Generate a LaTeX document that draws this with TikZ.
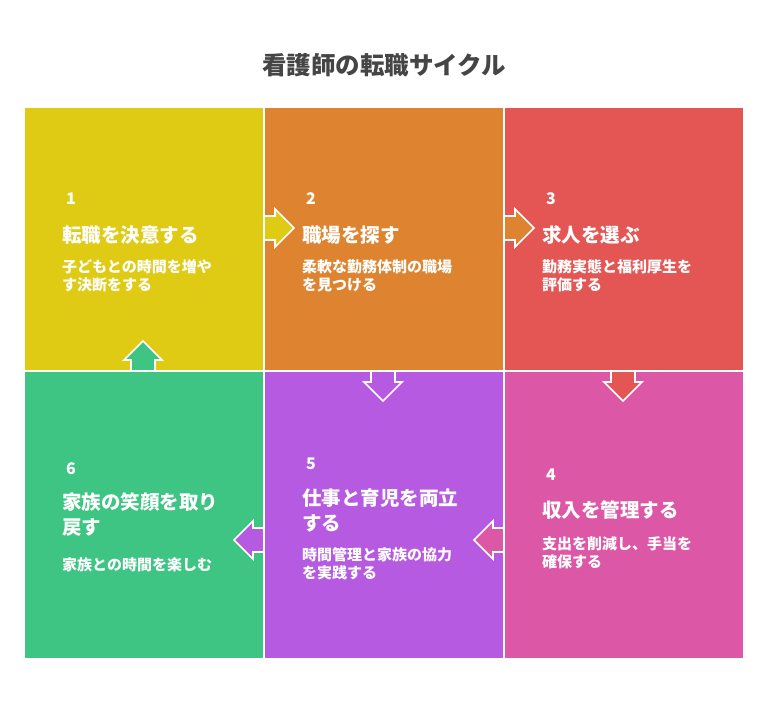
\documentclass[tikz,border=0pt]{standalone}
\usepackage{fontspec}
\setmainfont{Noto Sans CJK JP}
\definecolor{stepYellow}{HTML}{DFCA14}
\definecolor{stepOrange}{HTML}{DE8430}
\definecolor{stepRed}{HTML}{E35654}
\definecolor{stepPink}{HTML}{DC57A5}
\definecolor{stepPurple}{HTML}{B65BE1}
\definecolor{stepGreen}{HTML}{3EC583}
\definecolor{titleGray}{HTML}{454545}

\tikzset{
    stepnum/.style={anchor=west, inner sep=0pt, text=white,
        font=\bfseries\fontsize{16}{18}\selectfont},
    steptitle/.style={anchor=west, inner sep=0pt, text=white, align=left,
        font=\bfseries\fontsize{19.5}{25}\selectfont},
    stepdesc/.style={anchor=west, inner sep=0pt, text=white, align=left,
        font=\bfseries\fontsize{15}{18}\selectfont},
}

% arrow: x, y, angle, colour
\newcommand{\cyclearrow}[4]{
    \filldraw[fill=#4, draw=white, line width=1.6pt, line join=miter,
        shift={(#1,#2)}, rotate=#3]
        (0,-12) -- (11,-12) -- (11,-19) -- (30,0)
        -- (11,19) -- (11,12) -- (0,12) -- cycle;
}

\begin{document}
\begin{tikzpicture}[x=1pt, y=-1pt]
    \useasboundingbox (0,0) rectangle (768,708);
    \fill[white] (0,0) rectangle (768,708);

    \node[text=titleGray, font=\bfseries\fontsize{24.5}{28}\selectfont]
        (title) at (384,65) {看護師の転職サイクル};

    % Panels
    \fill[stepYellow] (25,108) rectangle (264,371);
    \fill[stepOrange] (264,108) rectangle (504,371);
    \fill[stepRed]    (504,108) rectangle (743,371);
    \fill[stepGreen]  (25,371) rectangle (264,658);
    \fill[stepPurple] (264,371) rectangle (504,658);
    \fill[stepPink]   (504,371) rectangle (743,658);

    % White borders
    \foreach \x in {264,504} {
        \draw[white, line width=2pt] (\x,108) -- (\x,658);
    }
    \draw[white, line width=2pt] (25,371) -- (743,371);

    % Arrows
    \cyclearrow{264}{228}{0}{stepYellow}
    \cyclearrow{504}{228}{0}{stepOrange}
    \cyclearrow{623}{371}{-90}{stepRed}
    \cyclearrow{383}{371}{-90}{stepPurple}
    \cyclearrow{504}{540}{180}{stepPink}
    \cyclearrow{264}{540}{180}{stepPurple}
    \cyclearrow{143}{371}{90}{stepGreen}

    % Step 1
    \node[stepnum] (n1) at (66,199) {1};
    \node[steptitle] (t1) at (62,235) {転職を決意する};
    \node[stepdesc] (d1) at (62,276) {子どもとの時間を増や\\す決断をする};

    % Step 2
    \node[stepnum] (n2) at (306,199) {2};
    \node[steptitle] (t2) at (302,235) {職場を探す};
    \node[stepdesc] (d2) at (302,276) {柔軟な勤務体制の職場\\を見つける};

    % Step 3
    \node[stepnum] (n3) at (546,199) {3};
    \node[steptitle] (t3) at (542,235) {求人を選ぶ};
    \node[stepdesc] (d3) at (542,276) {勤務実態と福利厚生を\\評価する};

    % Step 4
    \node[stepnum] (n4) at (546,475) {4};
    \node[steptitle] (t4) at (542,510) {収入を管理する};
    \node[stepdesc] (d4) at (542,553) {支出を削減し、手当を\\確保する};

    % Step 5
    \node[stepnum] (n5) at (306,464) {5};
    \node[steptitle] (t5) at (302,510) {仕事と育児を両立\\する};
    \node[stepdesc] (d5) at (302,564) {時間管理と家族の協力\\を実践する};

    % Step 6
    \node[stepnum] (n6) at (66,469) {6};
    \node[steptitle] (t6) at (62,515) {家族の笑顔を取り\\戻す};
    \node[stepdesc] (d6) at (62,565) {家族との時間を楽しむ};
\end{tikzpicture}
\end{document}
